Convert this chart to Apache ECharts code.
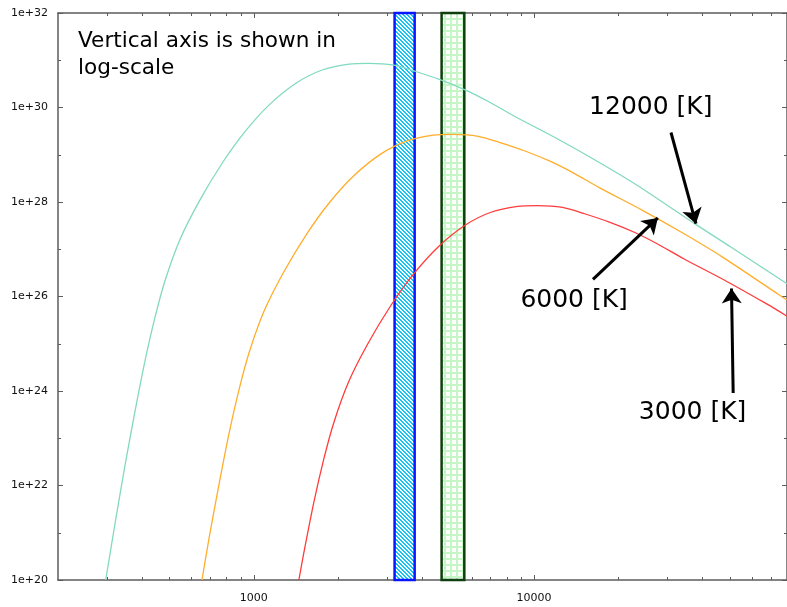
<!DOCTYPE html>
<html>
<head>
<meta charset="utf-8">
<script src="https://cdn.jsdelivr.net/npm/echarts@6/dist/echarts.min.js"></script>
<style>
html, body { margin: 0; padding: 0; background: #fff; }
#chart { width: 787px; height: 607px; }
</style>
</head>
<body>
<div id="chart"></div>
<script>
// wavelength and intensity
const wave12000 = [296, 320, 347, 377, 409, 444, 482, 545, 641, 774, 927, 1137, 1418, 1754, 2188, 2577, 3162, 3786, 4645, 5700, 6878, 8584, 12200, 16925, 23485, 37430, 50250, 80000];
const flux12000 = [1.0e20, 1.63e21, 2.69e22, 3.83e23, 4.38e24, 3.65e25, 2.16e26, 1.61e27, 1.08e28, 6.85e28, 3.01e29, 1.15e30, 3.30e30, 6.22e30, 8.30e30, 8.61e30, 7.85e30, 5.78e30, 3.84e30, 2.34e30, 1.34e30, 6.38e29, 2.13e29, 7.13e28, 2.21e28, 3.48e27, 1.13e27, 1.87e26];

const wave6000 = [653, 694, 754, 818, 888, 964, 1090, 1282, 1548, 1854, 2274, 2836, 3508, 4376, 5154, 6324, 7572, 9290, 11400, 13756, 17168, 24400, 33850, 46970, 74860, 80000];
const flux6000 = [1.0e20, 8.41e20, 1.20e22, 1.37e23, 1.14e24, 6.75e24, 5.03e25, 3.38e26, 2.14e27, 9.41e27, 3.59e28, 1.03e29, 1.94e29, 2.59e29, 2.69e29, 2.45e29, 1.81e29, 1.20e29, 7.31e28, 4.19e28, 1.99e28, 6.66e27, 2.23e27, 6.91e26, 1.09e26, 8.44e25];

const wave3000 = [1448, 1508, 1636, 1776, 1928, 2180, 2564, 3096, 3708, 4548, 5672, 7016, 8752, 10308, 12648, 15144, 18580, 22800, 27512, 34336, 48800, 67700, 80000];
const flux3000 = [1.0e20, 3.74e20, 4.28e21, 3.56e22, 2.11e23, 1.57e24, 1.05e25, 6.69e25, 2.94e26, 1.12e27, 3.22e27, 6.07e27, 8.11e27, 8.41e27, 7.67e27, 5.64e27, 3.75e27, 2.29e27, 1.31e27, 6.23e26, 2.08e26, 6.96e25, 3.84e25];

// shaded wavelength bands
const bandBlue = [3180, 3750];
const bandGreen = [4680, 5640];

// ticks
const xRange = [200, 80000];
const yRange = [1e20, 1e32];
const xMajor = [1000, 10000];
const xMinor = [300, 400, 500, 600, 700, 800, 900, 2000, 3000, 4000, 5000, 6000, 7000, 8000, 9000, 20000, 30000, 40000, 50000, 60000, 70000];
const yMajor = [1e20, 1e22, 1e24, 1e26, 1e28, 1e30, 1e32];
const yMinor = [1e21, 1e23, 1e25, 1e27, 1e29, 1e31];

// annotations: [label, text position, arrow start, arrow end]
const notes = [
  ['12000 [K]', [26120, 9.9e29], [30830, 2.96e29], [37850, 3.47e27]],
  ['6000 [K]', [13910, 8.1e25], [16240, 2.3e26], [27670, 4.6e27]],
  ['3000 [K]', [36820, 3.5e23], [51400, 9.1e23], [50700, 1.48e26]]
];

function hatch() {
  const c = document.createElement('canvas');
  c.width = 4; c.height = 4;
  const g = c.getContext('2d');
  g.fillStyle = '#fff';
  g.fillRect(0, 0, 4, 4);
  g.fillStyle = '#12c4f4';
  for (let i = 0; i < 4; i++) {
    g.fillRect(i, i, 1, 1);
    g.fillRect((i + 1) % 4, i, 1, 1);
  }
  return c;
}

function mesh() {
  const c = document.createElement('canvas');
  c.width = 6; c.height = 6;
  const g = c.getContext('2d');
  g.fillStyle = '#fff';
  g.fillRect(0, 0, 6, 6);
  g.fillStyle = '#c6f6c6';
  g.fillRect(0, 0, 6, 2);
  g.fillRect(0, 0, 2, 6);
  return c;
}

const axisColor = '#5c5c5c';
const labelFont = { fontFamily: 'DejaVu Sans', fontSize: 11, color: '#111' };

function xAx(pos, ticks, len, line, labels) {
  return {
    type: 'log', logBase: 10, position: pos, min: xRange[0], max: xRange[1],
    axisLine: { show: line, lineStyle: { color: axisColor, width: 1.5 } },
    axisTick: { show: true, inside: true, length: len, customValues: ticks, lineStyle: { color: axisColor, width: 1 } },
    axisLabel: labels ? Object.assign({
      show: true, customValues: labels, margin: 13,
      formatter: v => String(Math.round(v))
    }, labelFont) : { show: false },
    splitLine: { show: false }, minorTick: { show: false }
  };
}

function yAx(pos, ticks, len, line, labels) {
  return {
    type: 'log', logBase: 10, position: pos, min: yRange[0], max: yRange[1],
    axisLine: { show: line, lineStyle: { color: axisColor, width: 1.5 } },
    axisTick: { show: true, inside: true, length: len, customValues: ticks, lineStyle: { color: axisColor, width: 1 } },
    axisLabel: labels ? Object.assign({
      show: true, customValues: labels, margin: 10,
      formatter: v => '1e+' + Math.round(Math.log10(v))
    }, labelFont) : { show: false },
    splitLine: { show: false }, minorTick: { show: false }
  };
}

function curve(name, xs, ys, color) {
  return {
    name: name, type: 'line', xAxisIndex: 0, yAxisIndex: 0,
    data: xs.map((x, i) => [x, ys[i]]),
    showSymbol: false, symbol: 'none', z: 2, smooth: 0.25,
    lineStyle: { color: color, width: 1.3 }
  };
}

const chart = echarts.init(document.getElementById('chart'));
chart.setOption({
  animation: false,
  backgroundColor: '#fff',
  grid: { left: 58, top: 13, right: -3, bottom: 27 },
  xAxis: [
    xAx('bottom', xMajor, 5, true, xMajor),
    xAx('bottom', xMinor, 3, false, null),
    xAx('top', xMajor, 5, true, null),
    xAx('top', xMinor, 3, false, null)
  ],
  yAxis: [
    yAx('left', yMajor, 5, true, yMajor),
    yAx('left', yMinor, 3, false, null),
    yAx('right', yMajor, 5, true, null),
    yAx('right', yMinor, 3, false, null)
  ],
  graphic: [{
    type: 'text', left: 78, top: 28, z: 20,
    style: { text: 'Vertical axis is shown in\nlog-scale', font: '21.6px "DejaVu Sans"', lineHeight: 27, fill: '#000' }
  }],
  series: [
    curve('12000 [K]', wave12000, flux12000, '#82d9c0'),
    curve('6000 [K]', wave6000, flux6000, '#ffad2a'),
    curve('3000 [K]', wave3000, flux3000, '#ff3c3c'),
    {
      name: 'bands', type: 'line', data: [], z: 5, xAxisIndex: 0, yAxisIndex: 0,
      markArea: {
        silent: true,
        data: [
          [{ xAxis: bandBlue[0], itemStyle: { color: { image: hatch(), repeat: 'repeat' }, borderColor: '#0a14ff', borderWidth: 2.5 } }, { xAxis: bandBlue[1] }],
          [{ xAxis: bandGreen[0], itemStyle: { color: { image: mesh(), repeat: 'repeat' }, borderColor: '#0e3f0e', borderWidth: 2.5 } }, { xAxis: bandGreen[1] }]
        ]
      }
    },
    {
      name: 'notes', type: 'line', data: [], z: 10, xAxisIndex: 0, yAxisIndex: 0,
      markLine: {
        silent: true, symbol: ['none', 'arrow'], symbolSize: 15,
        label: { show: false },
        lineStyle: { color: '#000', width: 3, type: 'solid' },
        data: notes.map(n => [{ coord: n[2] }, { coord: n[3] }])
      },
      markPoint: {
        silent: true, symbol: 'rect', symbolSize: 1,
        itemStyle: { color: 'rgba(0,0,0,0)' },
        label: { show: true, position: 'inside', formatter: '{b}', fontFamily: 'DejaVu Sans', fontSize: 25, color: '#000' },
        data: notes.map(n => ({ name: n[0], coord: n[1] }))
      }
    }
  ]
});
</script>
</body>
</html>
